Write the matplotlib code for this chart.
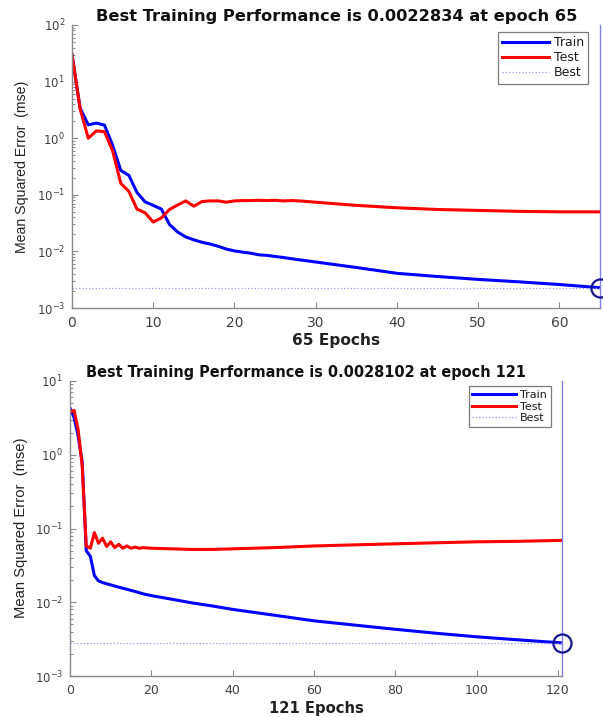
import matplotlib
matplotlib.use("Agg")
import matplotlib.pyplot as plt
from matplotlib.ticker import LogLocator, NullFormatter, FixedLocator

plt.rcParams['font.family'] = ['DejaVu Sans']
plt.rcParams['mathtext.default'] = 'regular'

# ---------------- data: top panel (65 epochs) ----------------
epochs_a = [0, 1, 2, 3, 4, 5, 6, 7, 8, 9, 10, 11, 12, 13, 14, 15, 16, 17, 18, 19,
            20, 21, 22, 23, 24, 26, 28, 30, 35, 40, 45, 50, 55, 60, 65]
train_a = [30, 3.4, 1.72, 1.85, 1.7, 0.75, 0.27, 0.22, 0.11, 0.075, 0.065, 0.056,
           0.030, 0.022, 0.018, 0.016, 0.0145, 0.0135, 0.0123, 0.011, 0.0102,
           0.0097, 0.0093, 0.0087, 0.0085, 0.0078, 0.0071, 0.0065, 0.0052,
           0.0041, 0.0036, 0.0032, 0.0029, 0.0026, 0.0022834]
epochs_a_test = [0, 1, 2, 3, 4, 5, 6, 7, 8, 9, 10, 11, 12, 13, 14, 15, 16, 17, 18,
                 19, 20, 21, 22, 23, 24, 25, 26, 27, 28, 30, 35, 40, 45, 50, 55, 60, 65]
test_a = [30, 3.3, 1.0, 1.35, 1.3, 0.6, 0.16, 0.115, 0.056, 0.048, 0.033, 0.039,
          0.055, 0.066, 0.078, 0.063, 0.076, 0.078, 0.078, 0.074, 0.078, 0.079,
          0.079, 0.080, 0.079, 0.080, 0.078, 0.079, 0.078, 0.074, 0.065, 0.059,
          0.055, 0.053, 0.051, 0.050, 0.050]
best_a_epoch = 65
best_a_value = 0.0022834

# ---------------- data: bottom panel (121 epochs) ----------------
epochs_b = [0, 1, 2, 3, 4, 5, 6, 7, 8, 9, 10, 12, 14, 16, 18, 20, 25, 30, 35,
            40, 50, 60, 70, 80, 90, 100, 110, 121]
train_b = [4.3, 3.2, 1.8, 0.8, 0.05, 0.042, 0.023, 0.0195, 0.0185, 0.0178,
           0.0172, 0.016, 0.015, 0.014, 0.013, 0.0123, 0.011, 0.0098, 0.0089,
           0.0080, 0.0067, 0.0056, 0.0049, 0.0043, 0.0038, 0.0034, 0.0031, 0.0028102]
epochs_b_test = [0, 1, 2, 3, 4, 5, 6, 7, 8, 9, 10, 11, 12, 13, 14, 15, 16, 17, 18,
                 20, 25, 30, 35, 40, 50, 60, 70, 80, 90, 100, 110, 121]
test_b = [3.8, 4.0, 2.2, 0.7, 0.058, 0.054, 0.088, 0.063, 0.074, 0.057, 0.066,
          0.055, 0.061, 0.054, 0.058, 0.054, 0.056, 0.054, 0.055, 0.054, 0.053,
          0.052, 0.052, 0.053, 0.055, 0.058, 0.060, 0.062, 0.064, 0.066, 0.067, 0.069]
best_b_epoch = 121
best_b_value = 0.0028102

W, H = 603, 717
fig = plt.figure(figsize=(W / 100, H / 100), dpi=100)


def px_axes(l, r, t, b):
    return fig.add_axes([l / W, 1 - b / H, (r - l) / W, (b - t) / H])


ax1 = px_axes(72, 600, 25, 308)
ax2 = px_axes(70, 562, 381, 676)

SP = '#8a8a8a'
TXT = '#404040'


def style(ax, ylim, xlim, xticks, xts, yts):
    ax.set_yscale('log')
    ax.set_ylim(*ylim)
    ax.set_xlim(*xlim)
    for s in ('top', 'right'):
        ax.spines[s].set_visible(False)
    for s in ('left', 'bottom'):
        ax.spines[s].set_color(SP)
        ax.spines[s].set_linewidth(1.0)
    ax.xaxis.set_major_locator(FixedLocator(xticks))
    ax.yaxis.set_major_locator(LogLocator(base=10, numticks=20))
    ax.yaxis.set_minor_locator(LogLocator(base=10, subs=range(2, 10), numticks=20))
    ax.yaxis.set_minor_formatter(NullFormatter())
    ax.tick_params(axis='both', which='both', direction='in', color=SP,
                   top=False, right=False)
    ax.tick_params(axis='y', which='major', length=4, labelsize=yts,
                   labelcolor=TXT, pad=5)
    ax.tick_params(axis='y', which='minor', length=2.5, width=0.7)
    ax.tick_params(axis='x', which='major', length=4, labelsize=xts,
                   labelcolor=TXT, pad=6)
    ax.tick_params(axis='x', which='minor', bottom=False)


def draw(ax, ea, tr, et, te, be, bv, xlim, ylim):
    ax.plot(ea, tr, color='#0000ff', lw=2.2, label='Train', solid_joinstyle='round')
    ax.plot(et, te, color='#ff0000', lw=2.2, label='Test', solid_joinstyle='round')
    ax.plot(list(xlim), [bv, bv], color='#9a9aff', lw=0.9, ls=':', label='Best')
    ax.plot([be, be], list(ylim), color='#8080f0', lw=1.0, clip_on=False, zorder=1)
    ax.plot([be], [bv], 'o', mfc='none', mec='#14148c', mew=1.6, ms=13,
            clip_on=False, zorder=5)


xl1, yl1 = (0, 65), (1e-3, 1e2)
xl2, yl2 = (0, 121), (1e-3, 1e1)
style(ax1, yl1, xl1, [0, 10, 20, 30, 40, 50, 60], 10, 8.5)
style(ax2, yl2, xl2, [0, 20, 40, 60, 80, 100, 120], 9, 8.5)
draw(ax1, epochs_a, train_a, epochs_a_test, test_a, best_a_epoch, best_a_value, xl1, yl1)
draw(ax2, epochs_b, train_b, epochs_b_test, test_b, best_b_epoch, best_b_value, xl2, yl2)

leg_kw = dict(frameon=True, fancybox=False, framealpha=1, edgecolor='#7a7a7a',
              borderpad=0.35, labelspacing=0.15, handletextpad=0.4,
              borderaxespad=0.0, bbox_transform=fig.transFigure, loc='upper right')
l1 = ax1.legend(fontsize=9, handlelength=3.7,
                bbox_to_anchor=(588 / W, 1 - 32 / H), **leg_kw)
l2 = ax2.legend(fontsize=8, handlelength=3.9,
                bbox_to_anchor=(551 / W, 1 - 386 / H), **leg_kw)
for lg in (l1, l2):
    lg.get_frame().set_linewidth(0.9)
    for t in lg.get_texts():
        t.set_color('#1a1a1a')

t1 = ax1.set_title('Best Training Performance is 0.0022834 at epoch 65',
                   fontweight='bold', fontsize=12, color='#111111')
t2 = ax2.set_title('Best Training Performance is 0.0028102 at epoch 121',
                   fontweight='bold', fontsize=11, color='#111111')
t1.set_position(((337 - 72) / 528, (308 - 14) / 283)); t1.set_va('center')
t2.set_position(((306 - 70) / 492, (676 - 367) / 295)); t2.set_va('center')

for ax, lab, pos in ((ax1, '65 Epochs', ((336.5 - 72) / 528, (308 - 341) / 283)),
                     (ax2, '121 Epochs', ((316 - 70) / 492, (676 - 708) / 295))):
    ax.set_xlabel(lab, fontweight='bold', fontsize=11, color='#222222')
    ax.xaxis.label.set_va('center')
    ax.xaxis.set_label_coords(*pos)

for ax, pos in ((ax1, ((22 - 72) / 528, 0.5)), (ax2, ((21 - 70) / 492, (676 - 528) / 295))):
    ax.set_ylabel('Mean Squared Error  (mse)', fontsize=10, color='#222222',
                  family=['Liberation Sans', 'DejaVu Sans'])
    ax.yaxis.label.set_va('center')
    ax.yaxis.set_label_coords(*pos)

# fit text extents to the reference pixel sizes
fig.canvas.draw()
r = fig.canvas.get_renderer()


def fit(t, target, dim):
    bb = t.get_window_extent(r)
    cur = bb.width if dim == 'w' else bb.height
    if cur > 0:
        t.set_fontsize(t.get_fontsize() * target / cur)


fit(t1, 478, 'w')
fit(t2, 438, 'w')
fit(ax1.xaxis.label, 88, 'w')
fit(ax2.xaxis.label, 94, 'w')
fit(ax1.yaxis.label, 173, 'h')
fit(ax2.yaxis.label, 180, 'h')

fig.savefig('out.png', dpi=100)
